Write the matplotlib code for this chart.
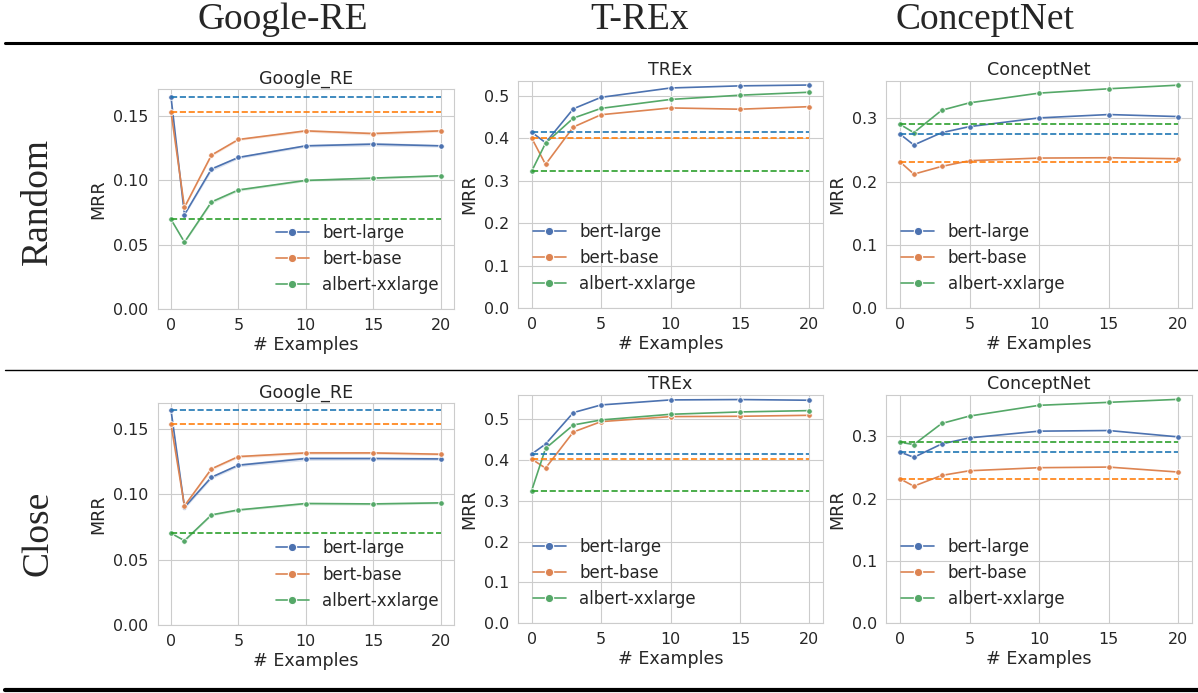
import matplotlib
matplotlib.use("Agg")
import matplotlib.pyplot as plt
from matplotlib.ticker import MultipleLocator
from matplotlib.lines import Line2D
import seaborn as sns

sns.set_style("whitegrid")
plt.rcParams['font.family'] = ['DejaVu Sans']

examples = [0, 1, 3, 5, 10, 15, 20]
models = ["bert-large", "bert-base", "albert-xxlarge"]
datasets = ["Google_RE", "TREx", "ConceptNet"]
col_headers = ["Google-RE", "T-REx", "ConceptNet"]
row_headers = ["Random", "Close"]

# zero-shot baselines (dashed)
baselines = {
    "Google_RE": [0.1647, 0.1531, 0.0697],
    "TREx": [0.415, 0.401, 0.323],
    "ConceptNet": [0.2752, 0.2314, 0.2905],
}

# MRR per model, random examples
random_google = [
    [0.1647, 0.0733, 0.1086, 0.1176, 0.1266, 0.1279, 0.1266],
    [0.1531, 0.0790, 0.1194, 0.1315, 0.1382, 0.1361, 0.1382],
    [0.0697, 0.0520, 0.0831, 0.0924, 0.0998, 0.1016, 0.1034],
]
random_trex = [
    [0.415, 0.390, 0.470, 0.497, 0.519, 0.524, 0.526],
    [0.401, 0.339, 0.427, 0.456, 0.472, 0.469, 0.475],
    [0.323, 0.389, 0.448, 0.471, 0.492, 0.502, 0.509],
]
random_concept = [
    [0.2752, 0.2578, 0.2773, 0.2868, 0.3006, 0.3059, 0.3027],
    [0.2314, 0.2118, 0.2240, 0.2330, 0.2372, 0.2377, 0.2361],
    [0.2905, 0.2773, 0.3127, 0.3244, 0.3397, 0.3466, 0.3523],
]

# MRR per model, close examples
close_google = [
    [0.1645, 0.0900, 0.1130, 0.1222, 0.1273, 0.1273, 0.1270],
    [0.1536, 0.0911, 0.1194, 0.1288, 0.1316, 0.1316, 0.1306],
    [0.0702, 0.0645, 0.0842, 0.0880, 0.0929, 0.0926, 0.0934],
]
close_trex = [
    [0.4148, 0.4393, 0.5164, 0.5352, 0.5475, 0.5484, 0.5467],
    [0.4025, 0.3803, 0.4689, 0.4943, 0.5066, 0.5074, 0.5098],
    [0.3254, 0.4287, 0.4861, 0.4984, 0.5123, 0.5180, 0.5213],
]
close_concept = [
    [0.2747, 0.2661, 0.2876, 0.2973, 0.3081, 0.3091, 0.2989],
    [0.2317, 0.2199, 0.2371, 0.2446, 0.2495, 0.2505, 0.2425],
    [0.2903, 0.2866, 0.3204, 0.3323, 0.3495, 0.3543, 0.3591],
]
close_baselines_google = [0.1645, 0.1536, 0.0702]
close_baselines_trex = [0.4148, 0.4025, 0.3254]
close_baselines_concept = [0.2747, 0.2317, 0.2903]

# small confidence band half-widths seen on Google_RE
random_google_err = [
    [0.0, 0.0008, 0.0015, 0.0010, 0.0010, 0.0015, 0.0010],
    [0.0, 0.0008, 0.0010, 0.0008, 0.0010, 0.0012, 0.0010],
    [0.0, 0.0008, 0.0012, 0.0010, 0.0008, 0.0010, 0.0008],
]
close_google_err = [
    [0.0, 0.0012, 0.0012, 0.0012, 0.0015, 0.0012, 0.0012],
    [0.0, 0.0010, 0.0010, 0.0010, 0.0012, 0.0010, 0.0010],
    [0.0, 0.0008, 0.0008, 0.0008, 0.0010, 0.0010, 0.0008],
]

line_colors = sns.color_palette("deep", 3)
dash_colors = ["#1f77b4", "#ff7f0e", "#2ca02c"]

W, H = 1198, 693
fig = plt.figure(figsize=(W / 100, H / 100), dpi=100)


def px_axes(l, t, r, b):
    return fig.add_axes([l / W, 1 - b / H, (r - l) / W, (b - t) / H])


panels = [
    # (left, top, right, bottom), dataset, values, base, err, legend loc, ystep
    ((157.5, 89.3, 454, 309.3), "Google_RE", random_google, baselines["Google_RE"], random_google_err, "lower right", 0.05),
    ((517.8, 80.7, 823.2, 308.3), "TREx", random_trex, baselines["TREx"], None, "lower left", 0.1),
    ((886, 80.7, 1192.2, 308.3), "ConceptNet", random_concept, baselines["ConceptNet"], None, "lower left", 0.1),
    ((157.5, 403.3, 454, 625), "Google_RE", close_google, close_baselines_google, close_google_err, "lower right", 0.05),
    ((517.8, 395, 823.2, 623.3), "TREx", close_trex, close_baselines_trex, None, "lower left", 0.1),
    ((886, 395, 1192.2, 623.3), "ConceptNet", close_concept, close_baselines_concept, None, "lower left", 0.1),
]

for box, name, values, base, err, loc, ystep in panels:
    ax = px_axes(*box)
    for i, model in enumerate(models):
        if err is not None:
            lo = [v - e for v, e in zip(values[i], err[i])]
            hi = [v + e for v, e in zip(values[i], err[i])]
            ax.fill_between(examples, lo, hi, color=line_colors[i], alpha=0.2, lw=0)
        ax.plot(examples, values[i], color=line_colors[i], lw=1.2, marker="o",
                ms=4, mec="white", mew=0.6, label=model)
    for i in range(3):
        ax.hlines(base[i], examples[0], examples[-1], colors=dash_colors[i],
                  linestyles="--", lw=1.2)
    ax.set_ylim(0, None)
    ax.yaxis.set_major_locator(MultipleLocator(ystep))
    ax.xaxis.set_major_locator(MultipleLocator(5))
    ax.set_title(name, fontsize=12.6, pad=4, color=".15")
    ax.set_xlabel("# Examples", fontsize=12.6, labelpad=2, color=".15")
    ax.set_ylabel("MRR", fontsize=12.6, labelpad=4, color=".15")
    ax.tick_params(labelsize=11.4, colors=".15", pad=3)
    handles = [Line2D([], [], color=line_colors[i], lw=1.2, marker="o", ms=6,
                      mec="white", mew=0.8) for i in range(3)]
    ax.legend(handles, models, loc=loc, fontsize=12, frameon=False)

serif = ["Liberation Serif", "DejaVu Serif"]
for x, label in zip([283, 640, 985], col_headers):
    fig.text(x / W, 1 - 20 / H, label, family=serif, fontsize=27,
             ha="center", va="center")
for y, label in zip([201, 533], row_headers):
    fig.text(38 / W, 1 - y / H, label, family=serif, fontsize=27,
             rotation=90, ha="center", va="center")

# table rules
fig.add_artist(Line2D([5 / W, 1], [1 - 43 / H] * 2, color="black", lw=2.2))
fig.add_artist(Line2D([5 / W, 1], [1 - 370 / H] * 2, color="black", lw=1.0))
fig.add_artist(Line2D([5 / W, 1], [1 - 689.5 / H] * 2, color="black", lw=3.0))

fig.savefig("out.png", dpi=100)
